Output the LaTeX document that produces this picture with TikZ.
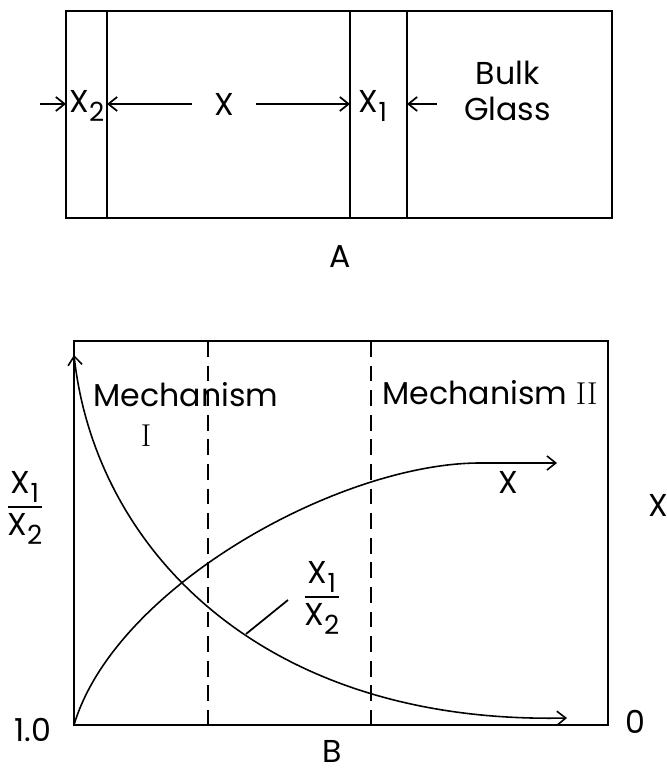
\documentclass[tikz,border=0pt]{standalone}
\usepackage{amsmath}
\usepackage{fontspec}
\setsansfont{Poppins}
\usetikzlibrary{arrows.meta,positioning,calc}
\newcommand{\lowidx}[1]{\raisebox{-0.55ex}{\fontsize{15}{15}\selectfont #1}}
\newcommand{\ratiolbl}{$\dfrac{\mbox{X\lowidx{1}}}{\mbox{X\lowidx{2}}}$}

\begin{document}
\begin{tikzpicture}[
  font=\sffamily\fontsize{18}{20}\selectfont,
  line width=1pt,
  >={Straight Barb[length=5pt,width=8pt]},
  arr/.style={->},
  split/.style={dash pattern=on 9pt off 5pt},
  curve/.style={line width=0.9pt},
]
\useasboundingbox (0,0) rectangle (13.34,15.44);

% (A) layers of the glass
\draw (1.32,11.08) rectangle (12.24,15.22);
\draw (2.14,11.08) -- (2.14,15.22);
\draw (7.0,11.08) -- (7.0,15.22);
\draw (8.14,11.08) -- (8.14,15.22);

\coordinate (s0) at (1.32,13.36);
\coordinate (s2) at (2.14,13.36);
\coordinate (s1a) at (7.0,13.36);
\coordinate (s1b) at (8.14,13.36);
\coordinate (in2) at (0.80,13.36);
\coordinate (in1) at (8.74,13.36);

\node (x2) at (1.74,13.32) {X\lowidx{2}};
\node[inner xsep=12pt] (xw) at (4.48,13.36) {X};
\node (x1) at (7.46,13.32) {X\lowidx{1}};
\node[align=center] (bulk) at (10.15,13.62) {Bulk\\Glass};
\node (capA) at (6.8,10.3) {A};

\draw[arr] (in2) -- (s0);
\draw[arr] (xw.west) -- (s2);
\draw[arr] (xw.east) -- (s1a);
\draw[arr] (in1) -- (s1b);

% (B) the two mechanisms
\coordinate (o) at (1.48,0.94);
\draw (o) rectangle (12.16,8.62);
\draw[split] (4.16,8.62) -- (4.16,0.94);
\draw[split] (7.42,8.62) -- (7.42,0.94);

\node (mech1) at (3.72,7.54) {Mechanism};
\node (num1) at (2.92,6.72) {\textrm{I}};
\node (mech2) at (9.8,7.58) {Mechanism \textrm{II}};

\draw[curve, ->] (o) .. controls (2.3,3.7) and (6.8,6.18) .. (9.6,6.18) -- (11.14,6.18);
\draw[curve, <->] (1.48,8.34) .. controls (1.9,4.5) and (5.2,0.95) .. (11.34,1.08);

\node (xcurve) at (10.16,5.8) {X};
\node (rcurve) at (6.44,3.48) {\ratiolbl};
\coordinate (lead) at (4.92,2.76);
\coordinate (leadend) at (5.76,3.44);
\draw (lead) -- (leadend);

% axes
\node (yleft) at (0.5,5.28) {\ratiolbl};
\node (yright) at (13.16,5.34) {X};
\node (one) at (0.66,0.84) {1.0};
\node (zero) at (12.7,1.0) {0};
\node[inner sep=0pt] (capB) at (6.64,0.42) {B};
\end{tikzpicture}
\end{document}
